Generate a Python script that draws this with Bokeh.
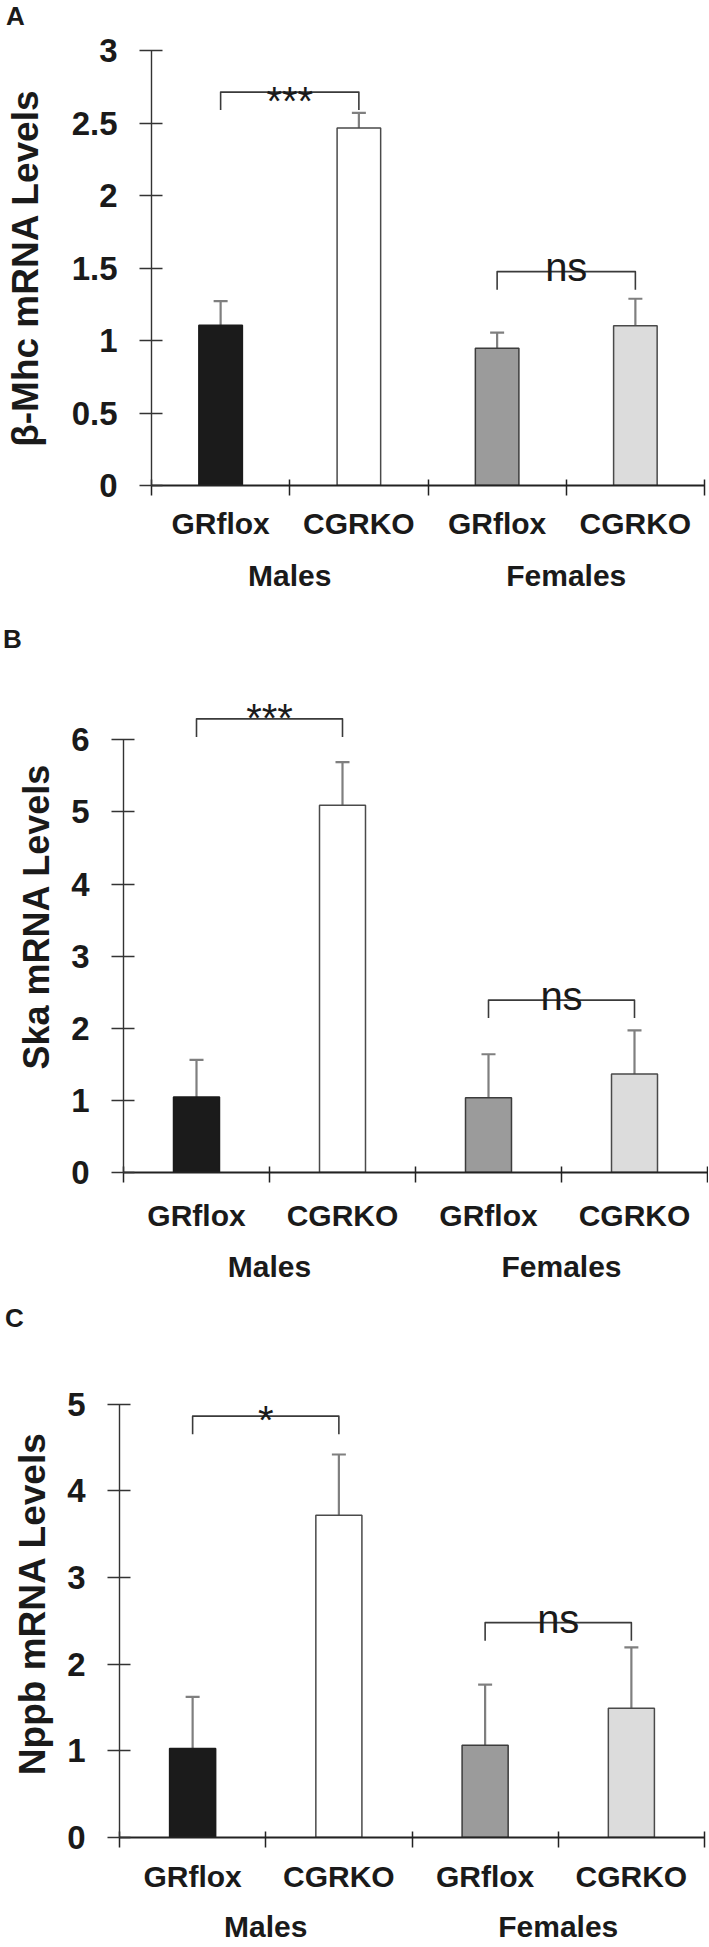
from bokeh.plotting import figure
from bokeh.models import (Range1d, FactorRange, LinearAxis, FixedTicker, Div,
                          CustomJSTickFormatter, ColumnDataSource, Whisker, TeeHead)
from bokeh.layouts import column
from bokeh.embed import file_html
from bokeh.resources import INLINE
from bokeh.core.properties import value

# ---------------- data ----------------
groups = ["Males", "Males", "Females", "Females"]
genotypes = ["GRflox", "CGRKO", "GRflox", "CGRKO"]

# Panel A: beta-Mhc
bmhc_mean = [1.106, 2.465, 0.946, 1.101]
bmhc_err = [0.166, 0.105, 0.108, 0.187]
bmhc_ticks = [0, 0.5, 1, 1.5, 2, 2.5, 3]
bmhc_tick_labels = ["0", "0.5", "1", "1.5", "2", "2.5", "3"]
bmhc_sig = ["***", "ns"]
bmhc_sig_level = [2.713, 1.475]

# Panel B: Ska
ska_mean = [1.047, 5.094, 1.036, 1.365]
ska_err = [0.515, 0.596, 0.604, 0.605]
ska_ticks = [0, 1, 2, 3, 4, 5, 6]
ska_tick_labels = ["0", "1", "2", "3", "4", "5", "6"]
ska_sig = ["***", "ns"]
ska_sig_level = [6.29, 2.39]

# Panel C: Nppb
nppb_mean = [1.027, 3.718, 1.063, 1.492]
nppb_err = [0.596, 0.701, 0.701, 0.701]
nppb_ticks = [0, 1, 2, 3, 4, 5]
nppb_tick_labels = ["0", "1", "2", "3", "4", "5"]
nppb_sig = ["*", "ns"]
nppb_sig_level = [4.862, 2.479]

# ---------------- styles ----------------
FONT = "Liberation Sans"
TXT = "#1a1a1a"
bar_fill = ["#1b1b1b", "#ffffff", "#9b9b9b", "#dcdcdc"]
bar_line = ["#1b1b1b", "#4a4a4a", "#3c3c3c", "#4a4a4a"]
W = 708


def letter_div(letter, height, x, baseline):
    # baseline of a line box = line_height/2 + (ascent - descent)/2 ~ L/2 + 9 px for 26px
    lh = max(2 * (baseline - 9), 26)
    return Div(text=letter, width=W, height=height,
               styles={"font-family": FONT, "font-weight": "bold", "font-size": "26px",
                       "line-height": f"{lh}px", "color": TXT, "text-indent": f"{x}px",
                       "margin": "0", "padding": "0", "overflow": "visible"})


def make_panel(ylabel, means, errs, ticks, tick_labels, sig, sig_level,
               height, b_top, b_left, b_right, b_bottom, y_end, ylab_size, ylab_standoff,
               s1, s2, sig_offsets):
    factors = list(zip(groups, genotypes))
    xr = FactorRange(factors=factors, range_padding=0, factor_padding=0,
                     group_padding=0, subgroup_padding=0)
    p = figure(width=W, height=height, x_range=xr, y_range=Range1d(0, y_end),
               output_backend="svg", toolbar_location=None, title=None,
               x_axis_type=None, y_axis_type=None,
               min_border_left=b_left, min_border_right=b_right,
               min_border_top=b_top, min_border_bottom=b_bottom)
    p.frame_align = False
    p.outline_line_color = None
    p.background_fill_color = "white"
    p.border_fill_color = "white"

    n = len(factors)
    centers = [i + 0.5 for i in range(n)]           # synthetic factor centres
    bounds_x = [float(i) for i in range(n + 1)]      # category boundaries
    group_names = list(dict.fromkeys(groups))
    group_centers = [sum(c for c, g in zip(centers, groups) if g == gn) /
                     groups.count(gn) for gn in group_names]

    # axis line, boundary ticks and genotype labels
    xsub = LinearAxis(ticker=FixedTicker(ticks=centers, minor_ticks=bounds_x),
                      formatter=CustomJSTickFormatter(args=dict(labels=genotypes),
                                                      code="return labels[index]"),
                      major_tick_line_color=None, major_tick_in=0, major_tick_out=10,
                      minor_tick_in=6, minor_tick_out=10,
                      minor_tick_line_color="#222222", minor_tick_line_width=1.5,
                      axis_line_color="#222222", axis_line_width=2.2,
                      major_label_standoff=s1,
                      major_label_text_font=FONT, major_label_text_font_size="30px",
                      major_label_text_font_style="bold", major_label_text_color=TXT)
    p.add_layout(xsub, "below")

    # group labels
    xgrp = LinearAxis(ticker=FixedTicker(ticks=group_centers, minor_ticks=[]),
                      formatter=CustomJSTickFormatter(args=dict(labels=group_names),
                                                      code="return labels[index]"),
                      axis_line_color=None, major_tick_line_color=None,
                      major_tick_in=0, major_tick_out=0, minor_tick_line_color=None,
                      major_label_standoff=s2,
                      major_label_text_font=FONT, major_label_text_font_size="30px",
                      major_label_text_font_style="bold", major_label_text_color=TXT)
    p.add_layout(xgrp, "below")

    yax = LinearAxis(ticker=FixedTicker(ticks=ticks, minor_ticks=[]), bounds=(0, ticks[-1]),
                     formatter=CustomJSTickFormatter(args=dict(labels=tick_labels),
                                                     code="return labels[index]"),
                     axis_label=ylabel, axis_label_standoff=ylab_standoff,
                     axis_label_text_font=FONT, axis_label_text_font_size=ylab_size,
                     axis_label_text_font_style="bold", axis_label_text_color=TXT,
                     major_label_text_font=FONT, major_label_text_font_size="33px",
                     major_label_text_font_style="bold", major_label_text_color=TXT,
                     major_label_standoff=22, major_tick_in=11, major_tick_out=12,
                     axis_line_color="#333333", axis_line_width=1.4,
                     major_tick_line_color="#333333", major_tick_line_width=1.4,
                     minor_tick_line_color=None)
    p.add_layout(yax, "left")

    frame_h = height - b_top - b_bottom
    ppu = frame_h / y_end

    src = ColumnDataSource(dict(x=factors, top=means,
                                upper=[m + e for m, e in zip(means, errs)],
                                fill=bar_fill, line=bar_line))
    wh = Whisker(base="x", lower="top", upper="upper", source=src,
                 dimension="height", line_color="#7f7f7f", line_width=2.2,
                 upper_head=TeeHead(size=14, line_color="#7f7f7f", line_width=2.2),
                 lower_head=None, level="underlay")
    p.add_layout(wh)
    p.vbar(x="x", top="top", bottom=0, width=0.315, source=src,
           fill_color="fill", line_color="line", line_width=1.5)

    # significance brackets between the bars of each group
    leg = 18.0 / ppu
    lefts = [centers[0], centers[2]]
    rights = [centers[1], centers[3]]
    xs = [[l, l, r, r] for l, r in zip(lefts, rights)]
    ys = [[b - leg, b, b, b - leg] for b in sig_level]
    p.multi_line(xs=xs, ys=ys, line_color="#3a3a3a", line_width=1.6, line_join="round")
    p.text(x=[(l + r) / 2 for l, r in zip(lefts, rights)],
           y=[b - off / ppu for b, off in zip(sig_level, sig_offsets)],
           text=sig, text_align="center", text_baseline="alphabetic",
           text_font=value(FONT), text_font_size="40px", text_color=TXT)
    return p


hA = letter_div("A", 31, 6, 25)
pA = make_panel("β-Mhc mRNA Levels", bmhc_mean, bmhc_err, bmhc_ticks, bmhc_tick_labels,
                bmhc_sig, bmhc_sig_level,
                height=564, b_top=19, b_left=151, b_right=4, b_bottom=110, y_end=3.0,
                ylab_size="37px", ylab_standoff=23, s1=11, s2=16,
                sig_offsets=[9, -5])

hB = letter_div("B", 59, 3, 53)
pB = make_panel("Ska mRNA Levels", ska_mean, ska_err, ska_ticks, ska_tick_labels,
                ska_sig, ska_sig_level,
                height=631, b_top=6, b_left=123, b_right=1, b_bottom=112, y_end=7.1,
                ylab_size="36px", ylab_standoff=11, s1=16, s2=15,
                sig_offsets=[-1, -4])

hC = letter_div("C", 48, 5, 42)
pC = make_panel("Nppb mRNA Levels", nppb_mean, nppb_err, nppb_ticks, nppb_tick_labels,
                nppb_sig, nppb_sig_level,
                height=612, b_top=36, b_left=119, b_right=4, b_bottom=108, y_end=5.4,
                ylab_size="37px", ylab_standoff=11, s1=12, s2=14,
                sig_offsets=[4, -4])

layout = column(hA, pA, hB, pB, hC, pC, spacing=0)
open("out.html", "w").write(file_html(layout, INLINE))
